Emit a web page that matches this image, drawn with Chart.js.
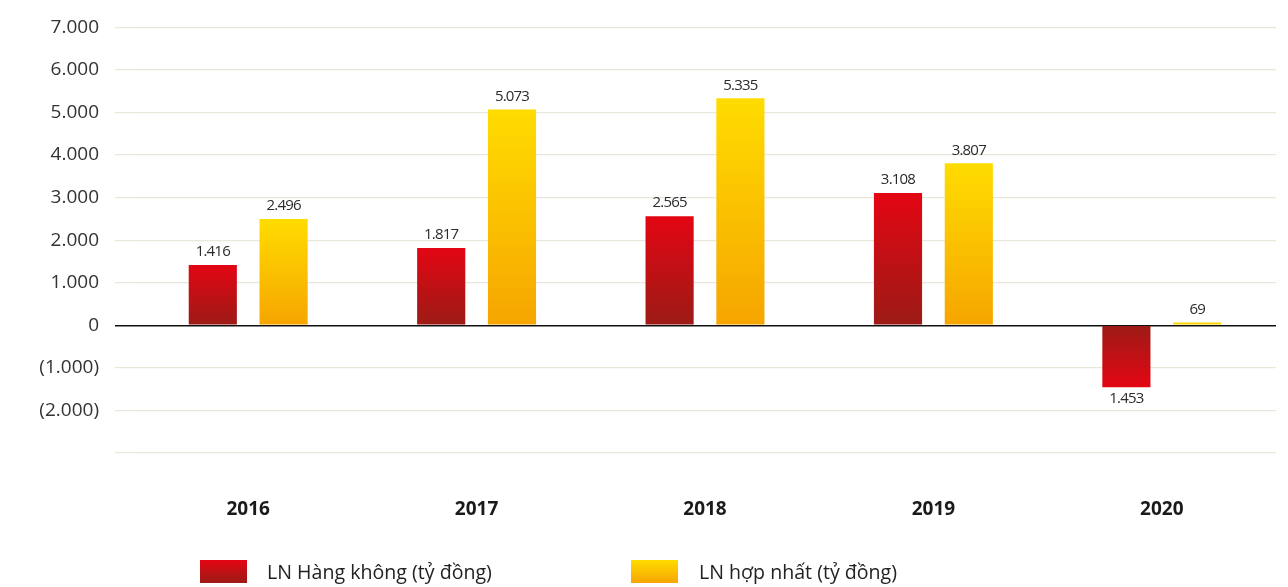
<!DOCTYPE html>
<html>
<head>
<meta charset="utf-8">
<script src="https://cdn.jsdelivr.net/npm/chart.js@4.4.1/dist/chart.umd.min.js"></script>
<style>
    body { margin: 0; background: #ffffff; }
    #wrap { position: relative; width: 1288px; height: 587px; overflow: hidden; }
    .legend-box { position: absolute; top: 560px; width: 47px; height: 23px; }
    .legend-text { position: absolute; top: 558px; font-family: 'Open Sans', sans-serif; font-size: 19.6px; color: #222; line-height: 27px; white-space: nowrap; }
</style>
</head>
<body>
<div id="wrap">
    <canvas id="profitChart" width="1288" height="587"></canvas>
    <div class="legend-box" style="left:200px; background: linear-gradient(#e30613, #9c1b16);"></div>
    <div class="legend-text" style="left:267px;">LN Hàng không (tỷ đồng)</div>
    <div class="legend-box" style="left:631px; background: linear-gradient(#ffdc00, #f6a500);"></div>
    <div class="legend-text" style="left:699px;">LN hợp nhất (tỷ đồng)</div>
</div>
<script>
const years = ['2016', '2017', '2018', '2019', '2020'];
const airlineProfit = [1416, 1817, 2565, 3108, -1453];
const consolidatedProfit = [2496, 5073, 5335, 3807, 69];
const seriesNames = ['LN Hàng không (tỷ đồng)', 'LN hợp nhất (tỷ đồng)'];

function formatNumber(v) {
    return Math.abs(v).toString().replace(/\B(?=(\d{3})+(?!\d))/g, '.');
}

// gradient over each bar, bright at the far end from zero
function barGradient(context, bright, dark) {
    const chart = context.chart;
    const yScale = chart.scales.y;
    if (!chart.chartArea || !yScale || !context.parsed) return bright;
    const yEnd = yScale.getPixelForValue(context.parsed.y);
    const yZero = yScale.getPixelForValue(0);
    if (Math.abs(yEnd - yZero) < 6) return '#ffd400';
    const g = chart.ctx.createLinearGradient(0, yEnd, 0, yZero);
    g.addColorStop(0, bright);
    g.addColorStop(1, dark);
    return g;
}

const valueLabels = {
    id: 'valueLabels',
    afterDatasetsDraw(chart) {
        const ctx = chart.ctx;
        ctx.save();
        ctx.font = '15px "Open Sans", sans-serif';
        ctx.fillStyle = '#2b2b2b';
        ctx.textAlign = 'center';
        ctx.textBaseline = 'middle';
        if ('letterSpacing' in ctx) ctx.letterSpacing = '-0.8px';
        chart.data.datasets.forEach((ds, i) => {
            const meta = chart.getDatasetMeta(i);
            meta.data.forEach((bar, j) => {
                const v = ds.data[j];
                const y = v < 0 ? bar.y + 12 : bar.y - 13;
                ctx.fillText(formatNumber(v), bar.x, y);
            });
        });
        ctx.restore();
    }
};

const ctx = document.getElementById('profitChart').getContext('2d');
const profitChart = new Chart(ctx, {
    type: 'bar',
    data: {
        labels: years,
        datasets: [{
            label: seriesNames[0],
            data: airlineProfit,
            backgroundColor: c => barGradient(c, '#e30613', '#9c1b16'),
            categoryPercentage: 0.62,
            barPercentage: 0.68
        }, {
            label: seriesNames[1],
            data: consolidatedProfit,
            backgroundColor: c => barGradient(c, '#ffdc00', '#f6a500'),
            categoryPercentage: 0.62,
            barPercentage: 0.68
        }]
    },
    options: {
        responsive: false,
        animation: false,
        layout: {
            padding: { top: 23, right: 12, left: 0, bottom: 0 }
        },
        scales: {
            x: {
                grid: { display: false },
                border: { display: false },
                ticks: {
                    color: '#1a1a1a',
                    padding: 37,
                    font: { family: 'Open Sans', size: 19, weight: 'bold' }
                },
                afterFit: s => { s.height = 134; }
            },
            y: {
                min: -3000,
                max: 7000,
                border: { display: false },
                grid: {
                    color: c => c.tick && c.tick.value === 0 ? '#111111' : '#e9e6da',
                    lineWidth: c => c.tick && c.tick.value === 0 ? 1.5 : 1.2,
                    tickLength: 19,
                    drawTicks: true
                },
                ticks: {
                    stepSize: 1000,
                    padding: 16,
                    color: '#333333',
                    font: { family: 'Open Sans', size: 19 },
                    callback: function(value) {
                        if (value === -3000) return '';
                        if (value < 0) return '(' + formatNumber(value) + ')';
                        return formatNumber(value);
                    }
                },
                afterFit: s => { s.width = 134; }
            }
        },
        plugins: {
            legend: { display: false },
            tooltip: { enabled: false }
        }
    },
    plugins: [valueLabels]
});
</script>
</body>
</html>
